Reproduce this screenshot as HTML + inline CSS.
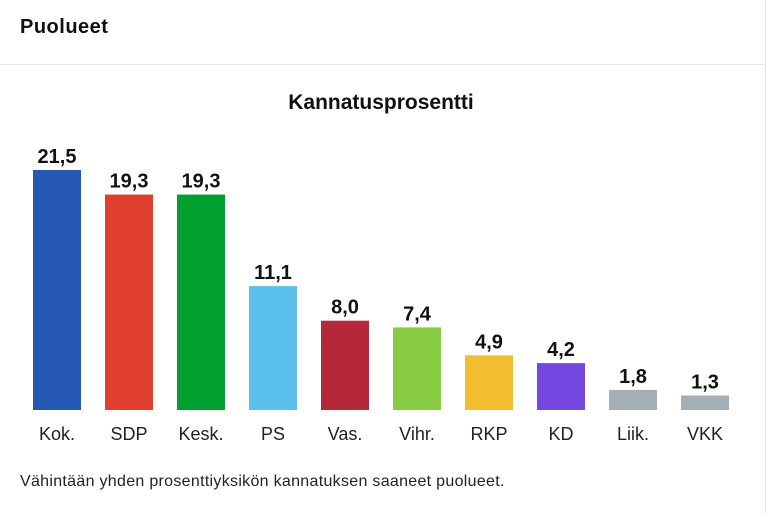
<!DOCTYPE html>
<html><head><meta charset="utf-8"><style>
body{margin:0;width:767px;height:514px;background:#fff;font-family:"Liberation Sans",sans-serif;overflow:hidden;position:relative}
#hdr{position:absolute;left:20px;top:16px;font-size:20px;font-weight:bold;color:#111;letter-spacing:0.5px}
#sep{position:absolute;left:0;top:64px;width:765px;height:1px;background:#e6e6e6}
#rb{position:absolute;left:765px;top:0;width:1px;height:514px;background:#e6e6e6}
#foot{position:absolute;left:20px;top:473px;font-size:16px;color:#222;letter-spacing:0.3px}
</style></head><body>
<div id="hdr">Puolueet</div>
<div id="sep"></div>
<div id="rb"></div>
<svg id="chart" width="767" height="514" style="position:absolute;left:0;top:0">
<text x="381" y="109" text-anchor="middle" font-size="21" font-weight="bold" font-family="Liberation Sans, sans-serif" fill="#111">Kannatusprosentti</text>
</svg>
<div id="foot">Vähintään yhden prosenttiyksikön kannatuksen saaneet puolueet.</div>
<script>
const categories=["Kok.","SDP","Kesk.","PS","Vas.","Vihr.","RKP","KD","Liik.","VKK"];
const values=[21.5,19.3,19.3,11.1,8.0,7.4,4.9,4.2,1.8,1.3];
const colors=["#2557b4","#e03f30","#00a030","#5bc0ec","#b42838","#88cc44","#f0be30","#7448e0","#a4aeb6","#a4aeb6"];
const svg=document.getElementById('chart');
const NS="http://www.w3.org/2000/svg";
const baseY=410, pxPerUnit=240/21.5, x0=33, step=72, bw=48;
const xs=i=>x0+i*step;
const ys=v=>baseY-v*pxPerUnit;
categories.forEach((c,i)=>{
  const v=values[i];
  const r=document.createElementNS(NS,'rect');
  r.setAttribute('x',xs(i));r.setAttribute('y',ys(v));
  r.setAttribute('width',bw);r.setAttribute('height',baseY-ys(v));
  r.setAttribute('fill',colors[i]);
  
  
  svg.appendChild(r);
  const t=document.createElementNS(NS,'text');
  t.setAttribute('x',xs(i)+bw/2);t.setAttribute('y',ys(v)-7);
  t.setAttribute('text-anchor','middle');t.setAttribute('font-size','20');
  t.setAttribute('font-weight','bold');t.setAttribute('fill','#111');
  t.setAttribute('font-family','Liberation Sans, sans-serif');
  t.textContent=v.toFixed(1).replace('.',',');
  
  
  svg.appendChild(t);
  const l=document.createElementNS(NS,'text');
  l.setAttribute('x',xs(i)+bw/2);l.setAttribute('y',440);
  l.setAttribute('text-anchor','middle');l.setAttribute('font-size','18');
  l.setAttribute('fill','#222');l.setAttribute('font-family','Liberation Sans, sans-serif');
  l.textContent=c;
  
  
  svg.appendChild(l);
});
</script>
</body></html>
